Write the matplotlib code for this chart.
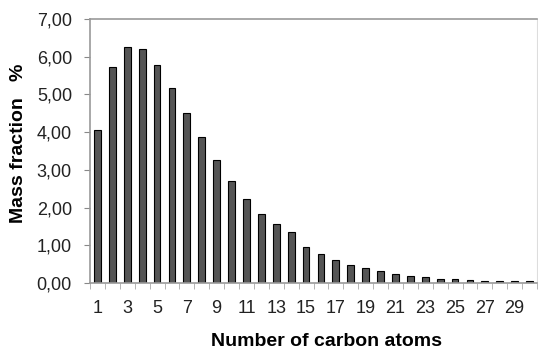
import matplotlib
matplotlib.use("Agg")
from matplotlib import pyplot as plt
from matplotlib import ticker
import numpy as np

plt.rcParams['font.family'] = ['Liberation Sans', 'DejaVu Sans']

carbon_atoms = list(range(1, 31))
mass_fraction = [4.06, 5.73, 6.27, 6.21, 5.78, 5.18, 4.52, 3.87, 3.26, 2.71,
                 2.22, 1.82, 1.57, 1.34, 0.96, 0.77, 0.61, 0.49, 0.39, 0.32,
                 0.24, 0.19, 0.15, 0.11, 0.10, 0.08, 0.06, 0.05, 0.045, 0.04]
y_ticks = [0, 1, 2, 3, 4, 5, 6, 7]
x_tick_labels = [str(i) for i in range(1, 30, 2)]

fig = plt.figure(figsize=(5.38, 3.5), dpi=100)
ax = fig.add_axes([90 / 538, 1 - 283 / 350, 447 / 538, 264 / 350])

ax.bar(carbon_atoms, mass_fraction, width=0.45, color='#555555',
       edgecolor='black', linewidth=0.8)

ax.set_xlim(0.5, 30.5)
ax.set_ylim(0, 7)

# y axis
ax.yaxis.set_major_locator(ticker.FixedLocator(y_ticks))
ax.yaxis.set_major_formatter(ticker.FuncFormatter(lambda v, p: f'{v:.2f}'.replace('.', ',')))
ax.tick_params(axis='y', length=4, color='#888888', labelsize=13, pad=9,
               labelcolor='#222222')

# x axis: labels on odd numbers, tick marks between categories
ax.xaxis.set_major_locator(ticker.FixedLocator(range(1, 30, 2)))
ax.xaxis.set_major_formatter(ticker.FixedFormatter(x_tick_labels))
ax.xaxis.set_minor_locator(ticker.FixedLocator(np.arange(0.5, 31, 1)))
ax.tick_params(axis='x', which='major', length=0, labelsize=13, pad=12,
               labelcolor='#222222')
ax.tick_params(axis='x', which='minor', length=4, color='#aaaaaa')

for side in ['left', 'top', 'bottom']:
    ax.spines[side].set_color('#999999')
    ax.spines[side].set_linewidth(1.2)
ax.spines['right'].set_color('#dddddd')
ax.spines['right'].set_linewidth(0.8)

ax.set_xlabel('Number of carbon atoms', fontsize=14, fontweight='bold')
ax.set_ylabel('Mass fraction   %', fontsize=14, fontweight='bold', labelpad=7)
# labels sit slightly off-centre in the original
ax.xaxis.label.set_verticalalignment('bottom')
ax.xaxis.set_label_coords(0.528, -67 / 264)
ax.yaxis.label.set_y(0.528)

plt.savefig('out.png', dpi=100)
